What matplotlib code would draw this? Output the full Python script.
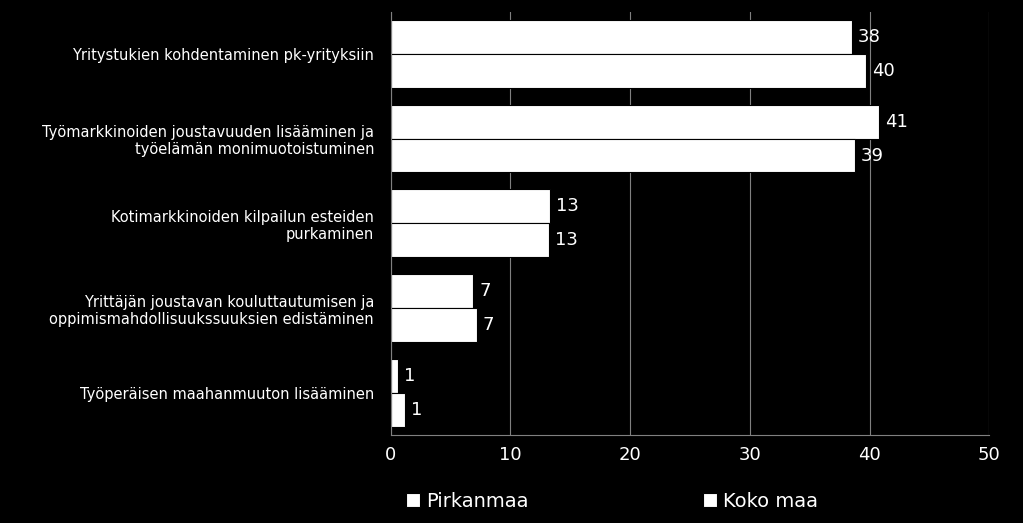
import numpy as np
import matplotlib.pyplot as plt

categories = [
    "Yritystukien kohdentaminen pk-yrityksiin",
    "Työmarkkinoiden joustavuuden lisääminen ja\ntyöelämän monimuotoistuminen",
    "Kotimarkkinoiden kilpailun esteiden\npurkaminen",
    "Yrittäjän joustavan kouluttautumisen ja\noppimismahdollisuukssuuksien edistäminen",
    "Työperäisen maahanmuuton lisääminen",
]
pirkanmaa = [38.5, 40.8, 13.3, 6.9, 0.6]
koko_maa = [39.7, 38.8, 13.2, 7.2, 1.2]
pirkanmaa_labels = ["38", "41", "13", "7", "1"]
koko_maa_labels = ["40", "39", "13", "7", "1"]

fig = plt.figure(figsize=(10.23, 5.23), dpi=100, facecolor="black")
ax = fig.add_axes([0.382, 0.168, 0.585, 0.81], facecolor="black")

y = np.arange(len(categories))
h = 0.4
b1 = ax.barh(y - h / 2, pirkanmaa, h, color="white", edgecolor="black", linewidth=0.8, label="Pirkanmaa")
b2 = ax.barh(y + h / 2, koko_maa, h, color="white", edgecolor="black", linewidth=0.8, label="Koko maa")

for bars, labs in ((b1, pirkanmaa_labels), (b2, koko_maa_labels)):
    for bar, lab in zip(bars, labs):
        ax.text(bar.get_width() + 0.5, bar.get_y() + bar.get_height() / 2, lab,
                color="white", va="center", ha="left", fontsize=13)

ax.set_ylim(len(categories) - 0.5, -0.5)
ax.set_xlim(0, 50)
ax.set_xticks(range(0, 51, 10))
ax.set_yticks(y)
ax.set_yticklabels(categories, color="white", fontsize=10.5)
ax.tick_params(axis="x", colors="white", labelsize=13, length=0, pad=8)
ax.tick_params(axis="y", length=0, pad=12)
ax.xaxis.grid(True, color="#808080", linewidth=0.8)
ax.set_axisbelow(True)
for s in ("top", "right"):
    ax.spines[s].set_visible(False)
for s in ("left", "bottom"):
    ax.spines[s].set_color("#808080")

fig.legend(handles=[b1, b2], labels=["Pirkanmaa", "Koko maa"], loc="lower left",
           bbox_to_anchor=(0.38, -0.01), ncol=2, frameon=False, fontsize=14,
           labelcolor="white", handlelength=0.7, handleheight=0.7,
           handletextpad=0.3, columnspacing=9)

fig.savefig("out.png", dpi=100, facecolor="black")
